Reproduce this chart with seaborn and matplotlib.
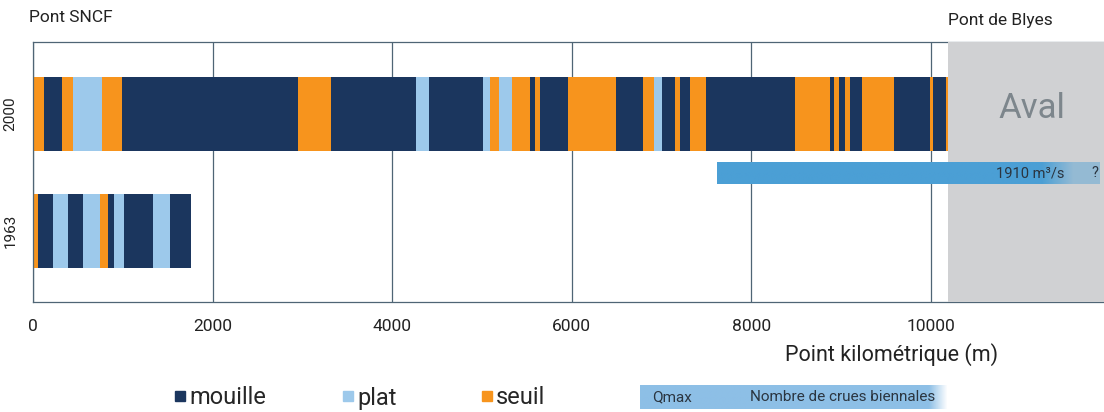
import matplotlib.pyplot as plt
import numpy as np
import pandas as pd
import seaborn as sns

from matplotlib.colors import to_rgba
from matplotlib.lines import Line2D

# --- data ------------------------------------------------------------------
years = ["2000", "1963"]

# end position (m) of each facies segment, from upstream (Pont SNCF)
ends_2000 = [126, 323, 442, 765, 988, 2948, 3318, 4262, 4413, 5014,
             5089, 5193, 5338, 5535, 5594, 5643, 5954, 6492, 6790, 6912,
             7001, 7149, 7202, 7320, 7494, 8493, 8879, 8923, 8983, 9050,
             9105, 9235, 9596, 9989, 10022, 10165, 10195]
kinds_2000 = ["seuil", "mouille", "seuil", "plat", "seuil", "mouille", "seuil", "mouille", "plat", "mouille",
              "plat", "seuil", "plat", "seuil", "mouille", "seuil", "mouille", "seuil", "mouille", "seuil",
              "plat", "mouille", "seuil", "mouille", "seuil", "mouille", "seuil", "mouille", "seuil", "mouille",
              "seuil", "mouille", "seuil", "mouille", "seuil", "mouille", "seuil"]

ends_1963 = [59, 226, 390, 560, 746, 838, 906, 1013, 1333, 1522, 1763]
kinds_1963 = ["seuil", "mouille", "plat", "mouille", "plat", "seuil", "mouille", "plat", "mouille", "plat", "mouille"]

x_ticks = [0, 2000, 4000, 6000, 8000, 10000]
aval_start = 10195
x_max = 11930

qmax_start = 7620
qmax_end = 11880
qmax_label = "1910 m³/s"

legend_kinds = ["mouille", "plat", "seuil"]

colors = {"mouille": "#1b365e", "plat": "#9dc9eb", "seuil": "#f7941d"}
qmax_color = "#4b9fd5"
line_color = "#4f6575"
text_color = "#222222"

# --- style -----------------------------------------------------------------
sns.set_theme(style="white")
plt.rcParams["font.family"] = ["Roboto", "DejaVu Sans"]

rows = []
for year, ends, kinds in [("2000", ends_2000, kinds_2000), ("1963", ends_1963, kinds_1963)]:
    for i, (end, kind) in enumerate(zip(ends, kinds)):
        rows.append({"year": year, "seg": f"{year}-{i}", "end": end, "kind": kind})
df = pd.DataFrame(rows).sort_values("end", ascending=False).reset_index(drop=True)
palette = {r.seg: colors[r.kind] for r in df.itertuples()}

fig = plt.figure(figsize=(11.04, 4.12), dpi=100)
ax = fig.add_axes([33 / 1104, 110 / 412, 1071 / 1104, 260 / 412])

# longest bars first, shorter ones on top -> consecutive segments
sns.barplot(data=df, x="end", y="year", hue="seg", hue_order=list(df["seg"]),
            order=years, palette=palette, dodge=False, width=0.63,
            errorbar=None, saturation=1, linewidth=0, legend=False, ax=ax)

ax.axvspan(aval_start, x_max, color="#d0d1d3", lw=0, zorder=3)

# Qmax bar, fading out at the downstream end
qmax_y, qmax_h = 0.507, 0.188
n = 256
t = np.linspace(0, 1, n)
grad = np.zeros((1, n, 4))
grad[..., :3] = to_rgba(qmax_color)[:3]
grad[..., 3] = np.clip((1 - t) / 0.15, 0.45, 1.0)
ax.imshow(grad, extent=(qmax_start, qmax_end, qmax_y + qmax_h / 2, qmax_y - qmax_h / 2),
          aspect="auto", zorder=4, interpolation="bilinear")
ax.text(11492, qmax_y, qmax_label, ha="right", va="center", fontsize=10.5,
        color="#2b3540", zorder=5)
ax.text(11826, qmax_y, "?", ha="center", va="center", fontsize=10.5,
        color="#2b3540", zorder=5)

ax.text(11130, -0.05, "Aval", ha="center", va="center", fontsize=25,
        color="#7d868c", zorder=5)

ax.set_xlim(0, x_max)
ax.set_ylim(1.607, -0.615)
ax.set_xticks(x_ticks)
ax.set_xticklabels([str(v) for v in x_ticks], fontsize=12.5, color=text_color)
ax.set_yticks([0, 1])
ax.set_yticklabels(years, rotation=90, va="center", fontsize=11, color=text_color)
ax.tick_params(axis="x", length=0, pad=12)
ax.tick_params(axis="y", length=0, pad=11)
ax.set_xlabel("")
ax.set_ylabel("")

ax.set_axisbelow(True)
ax.grid(axis="x", color=line_color, linewidth=0.9)
ax.grid(axis="y", visible=False)
for side in ["top", "bottom", "left"]:
    ax.spines[side].set_color(line_color)
    ax.spines[side].set_linewidth(0.9)
ax.spines["right"].set_visible(False)

fig.text(29 / 1104, 1 - 18 / 412, "Pont SNCF", ha="left", va="center",
         fontsize=12.5, color=text_color)
fig.text(948 / 1104, 1 - 20 / 412, "Pont de Blyes", ha="left", va="center",
         fontsize=12.5, color=text_color)
fig.text(785 / 1104, 1 - 355 / 412, "Point kilométrique (m)", ha="left",
         va="center", fontsize=15.5, color=text_color)

# legend entries placed one by one (uneven spacing in the original)
for kind, x_px in zip(legend_kinds, [174, 342, 481]):
    h = Line2D([], [], marker="s", linestyle="none", color=colors[kind], markersize=7.5)
    fig.legend([h], [kind], loc="center left",
               bbox_to_anchor=(x_px / 1104, 1 - 398 / 412), frameon=False,
               fontsize=17, handlelength=0.5, handletextpad=0.15,
               borderpad=0, borderaxespad=0)

# Qmax legend box
qax = fig.add_axes([640 / 1104, 3 / 412, 308 / 1104, 24 / 412])
lg = np.zeros((1, n, 4))
lg[..., :3] = to_rgba("#8dbfe6")[:3]
lg[..., 3] = np.clip((1 - t) / 0.06, 0.0, 1.0)
qax.imshow(lg, extent=(0, 1, 0, 1), aspect="auto", interpolation="bilinear")
qax.set_xlim(0, 1)
qax.set_ylim(0, 1)
qax.axis("off")
qax.text(0.04, 0.5, "Qmax", ha="left", va="center", fontsize=11, color="#2b3540")
qax.text(0.357, 0.5, "Nombre de crues biennales", ha="left", va="center",
         fontsize=11, color="#2b3540")

fig.savefig("out.png", dpi=100)
